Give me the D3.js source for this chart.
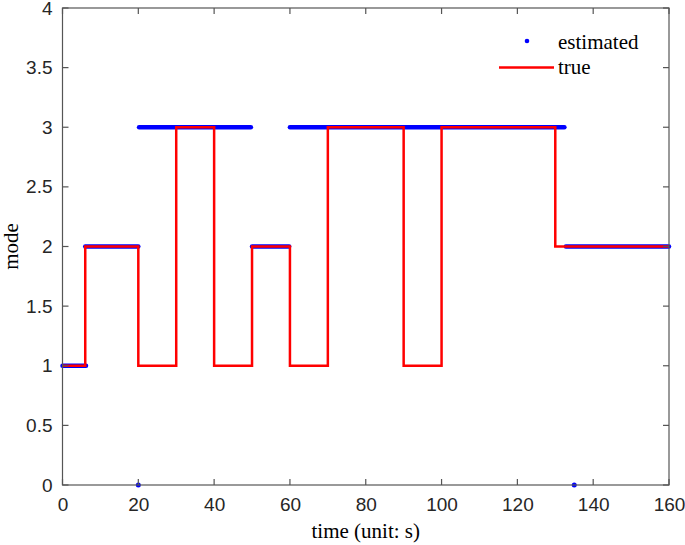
<!DOCTYPE html>
<html>
<head>
<meta charset="utf-8">
<script src="https://cdn.jsdelivr.net/npm/d3@7"></script>
<style>
  body { margin: 0; background: #fff; }
  svg { display: block; }
  .tick text { font-family: "Liberation Sans", Arial, sans-serif; font-size: 19px; fill: #262626; }
  .lab { font-family: "Liberation Serif", "Times New Roman", serif; font-size: 21px; fill: #000; }
</style>
</head>
<body>
<svg id="chart" width="685" height="545"></svg>
<script>
// Data
// true mode: step changes [time, mode]
const trueTimes = [0, 6, 20, 30, 40, 50, 60, 70, 90, 100, 130, 160];
const trueModes = [1, 2, 1, 3, 1, 2, 1, 3, 1, 3, 2, 2];

// estimated mode: runs of dense samples [start, end, mode]
const estStart = [0, 6, 20.2, 50, 60, 132.8];
const estEnd = [6.2, 20, 49.7, 59.8, 132.4, 160];
const estModes = [1, 2, 3, 2, 3, 2];
// isolated estimated samples
const outlierTimes = [20, 135];
const outlierModes = [0, 0];

const xTicks = [0, 20, 40, 60, 80, 100, 120, 140, 160];
const yTicks = [0, 0.5, 1, 1.5, 2, 2.5, 3, 3.5, 4];

function whenDocumentLoaded(action) {
	if (document.readyState === "loading") {
		document.addEventListener("DOMContentLoaded", action);
	} else {
		action();
	}
}

whenDocumentLoaded(() => {
	const svg = d3.select("#chart");
	const left = 62.5, right = 669, top = 8, bottom = 485;
	const axisCol = "#555";

	const x = d3.scaleLinear().domain([0, 160]).range([left, right]);
	const y = d3.scaleLinear().domain([0, 4]).range([bottom, top]);

	// estimated runs, drawn as thick dotted bands
	const runs = estStart.map((s, i) => ({s: s, e: estEnd[i], m: estModes[i]}));
	svg.append("g")
		.selectAll("line")
		.data(runs)
		.enter()
		.append("line")
			.attr("x1", d => x(d.s))
			.attr("x2", d => x(d.e))
			.attr("y1", d => y(d.m))
			.attr("y2", d => y(d.m))
			.attr("stroke", "#0000ff")
			.attr("stroke-width", 4.5)
			.attr("stroke-linecap", "round");

	svg.append("g")
		.selectAll("circle")
		.data(outlierTimes.map((t, i) => [t, outlierModes[i]]))
		.enter()
		.append("circle")
			.attr("cx", d => x(d[0]))
			.attr("cy", d => y(d[1]))
			.attr("r", 2.5)
			.attr("fill", "#0000ff");

	// true mode as a step line
	const line = d3.line()
		.x(d => x(d[0]))
		.y(d => y(d[1]))
		.curve(d3.curveStepAfter);
	svg.append("path")
		.datum(trueTimes.map((t, i) => [t, trueModes[i]]))
		.attr("d", line)
		.attr("fill", "none")
		.attr("stroke", "#ff0000")
		.attr("stroke-width", 2.5);

	// axes (inner ticks, box on all sides)
	const tl = 6;
	const xb = svg.append("g").attr("transform", `translate(0,${bottom})`)
		.call(d3.axisBottom(x).tickValues(xTicks).tickSize(0).tickPadding(13));
	const yl = svg.append("g").attr("transform", `translate(${left},0)`)
		.call(d3.axisLeft(y).tickValues(yTicks).tickSize(0).tickPadding(10).tickFormat(d3.format("")));
	[xb, yl].forEach(g => { g.select(".domain").remove(); g.selectAll("line").remove(); });

	const frame = svg.append("g").attr("stroke", axisCol).attr("stroke-width", 1.2).attr("fill", "none");
	frame.append("rect").attr("x", left).attr("y", top).attr("width", right - left).attr("height", bottom - top);
	xTicks.forEach(t => {
		frame.append("line").attr("x1", x(t)).attr("x2", x(t)).attr("y1", bottom).attr("y2", bottom - tl);
		frame.append("line").attr("x1", x(t)).attr("x2", x(t)).attr("y1", top).attr("y2", top + tl);
	});
	yTicks.forEach(t => {
		frame.append("line").attr("x1", left).attr("x2", left + tl).attr("y1", y(t)).attr("y2", y(t));
		frame.append("line").attr("x1", right).attr("x2", right - tl).attr("y1", y(t)).attr("y2", y(t));
	});

	// labels
	svg.append("text").attr("class", "lab")
		.attr("x", (left + right) / 2).attr("y", 538)
		.attr("text-anchor", "middle")
		.text("time (unit: s)");
	svg.append("text").attr("class", "lab")
		.attr("transform", `translate(18,${(top + bottom) / 2}) rotate(-90)`)
		.attr("text-anchor", "middle")
		.text("mode");

	// legend
	const lg = svg.append("g");
	lg.append("circle").attr("cx", 527).attr("cy", 41).attr("r", 2.3).attr("fill", "#0000ff");
	lg.append("text").attr("class", "lab").attr("x", 558).attr("y", 49).text("estimated");
	lg.append("line").attr("x1", 499).attr("x2", 554).attr("y1", 67.5).attr("y2", 67.5)
		.attr("stroke", "#ff0000").attr("stroke-width", 2.5);
	lg.append("text").attr("class", "lab").attr("x", 558).attr("y", 74).text("true");
});
</script>
</body>
</html>
